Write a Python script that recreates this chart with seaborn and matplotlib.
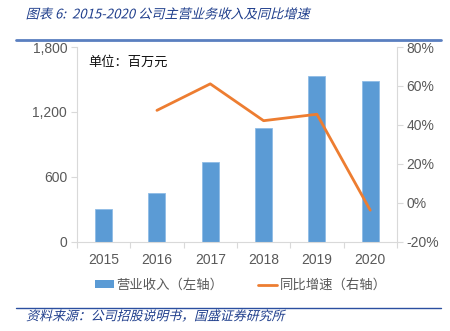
import numpy as np
import pandas as pd
import matplotlib
matplotlib.use("Agg")
import matplotlib.pyplot as plt
import seaborn as sns
from matplotlib import patheffects
from matplotlib.transforms import Affine2D
from matplotlib.ticker import FixedLocator, FuncFormatter
from matplotlib.lines import Line2D
from matplotlib.patches import Patch

# Data: revenue (million yuan) and YoY growth (%)
years = ["2015", "2016", "2017", "2018", "2019", "2020"]
revenue = [302, 452, 736, 1049, 1535, 1489]
growth_years = ["2016", "2017", "2018", "2019", "2020"]
growth = [47.5, 61.1, 42.2, 45.5, -3.7]
left_ticks = [0, 600, 1200, 1800]
right_ticks = [-20, 0, 20, 40, 60, 80]

BAR = "#5B9BD5"
LINE = "#ED7D31"
NAVY = "#1F3E8C"
GRID = "#D9D9D9"
TICK = "#595959"

sns.set_theme(style="white")
plt.rcParams["font.family"] = ["Liberation Sans", "Noto Sans CJK SC", "DejaVu Sans"]
CJK = ["Noto Sans CJK SC", "DejaVu Sans"]


class Slant(patheffects.AbstractPathEffect):
    """Shear glyph outlines to imitate an italic face."""

    def __init__(self, deg=14):
        super().__init__()
        self.deg = deg

    def draw_path(self, renderer, gc, tpath, affine, rgbFace=None):
        x0, y0 = affine.transform((0, 0))
        skew = (Affine2D().translate(-x0, -y0)
                .skew_deg(self.deg, 0).translate(x0, y0))
        renderer.draw_path(gc, tpath, affine + skew, rgbFace)


fig = plt.figure(figsize=(4.5, 3.31), dpi=100)
ax = fig.add_axes([0.171, 0.269, 0.711, 0.589])

df = pd.DataFrame({"year": years, "revenue": revenue})
sns.barplot(data=df, x="year", y="revenue", color=BAR, width=0.32,
            saturation=1, ax=ax, edgecolor="#8FBCE6", linewidth=0.6)

ax.set_xlim(-0.5, len(years) - 0.5)
ax.set_ylim(0, 1800)
ax.yaxis.set_major_locator(FixedLocator(left_ticks))
ax.yaxis.set_major_formatter(FuncFormatter(lambda v, p: f"{int(v):,}"))
ax.set_xlabel("")
ax.set_ylabel("")
ax.set_xticks(range(len(years)), years)
ax.xaxis.set_minor_locator(FixedLocator(np.arange(-0.5, len(years), 1.0)))
ax.tick_params(axis="x", which="major", length=0, pad=8, labelsize=10, colors=TICK)
ax.tick_params(axis="x", which="minor", length=4, width=0.8, color=GRID, bottom=True)
ax.tick_params(axis="y", length=4, width=0.8, color=GRID, labelsize=10,
               labelcolor=TICK, pad=3, left=True)
for s in ["top", "right"]:
    ax.spines[s].set_visible(False)
for s in ["left", "bottom"]:
    ax.spines[s].set_color(GRID)
    ax.spines[s].set_linewidth(0.8)

ax2 = ax.twinx()
gpos = [years.index(y) for y in growth_years]
sns.lineplot(x=gpos, y=growth, color=LINE, linewidth=2.0, ax=ax2, legend=False)
ax2.set_xlim(-0.5, len(years) - 0.5)
ax2.set_ylim(-20, 80)
ax2.yaxis.set_major_locator(FixedLocator(right_ticks))
ax2.yaxis.set_major_formatter(FuncFormatter(lambda v, p: f"{int(v)}%"))
ax2.tick_params(axis="y", length=4, width=0.8, color=GRID, labelsize=10,
                labelcolor=TICK, pad=3, right=True)
ax2.set_ylabel("")
for s in ["top", "left", "bottom"]:
    ax2.spines[s].set_visible(False)
ax2.spines["right"].set_color(GRID)
ax2.spines["right"].set_linewidth(0.8)

ax.text(0.035, 0.955, "单位：百万元", transform=ax.transAxes, family=CJK,
        fontsize=9.5, color="#111111", va="top", ha="left")

handles = [Patch(facecolor=BAR, edgecolor="none"),
           Line2D([0], [0], color=LINE, linewidth=2)]
fig.legend(handles, ["营业收入（左轴）", "同比增速（右轴）"], loc="center",
           bbox_to_anchor=(0.535, 0.139), ncol=2, frameon=False,
           prop={"family": CJK, "size": 9.6}, handlelength=1.4,
           handleheight=0.55, handletextpad=0.2, columnspacing=2.6)
for t in fig.legends[0].get_texts():
    t.set_color(TICK)

# Header and footer
fig.text(0.057, 0.955, "图表 6:  2015-2020 公司主营业务收入及同比增速",
         family=CJK, fontsize=9.5, color=NAVY, va="center", ha="left",
         path_effects=[Slant(14)])
fig.add_artist(Line2D([0.036, 0.98], [0.879, 0.879], color="#5A7FC0",
                      linewidth=2.0, transform=fig.transFigure))
fig.add_artist(Line2D([0.036, 0.98], [0.070, 0.070], color="#2B4FA0",
                      linewidth=1.0, transform=fig.transFigure))
fig.text(0.058, 0.043, "资料来源：公司招股说明书，国盛证券研究所",
         family=CJK, fontsize=9.3, color=NAVY, va="center", ha="left",
         path_effects=[Slant(14)])

fig.savefig("out.png", dpi=100)
